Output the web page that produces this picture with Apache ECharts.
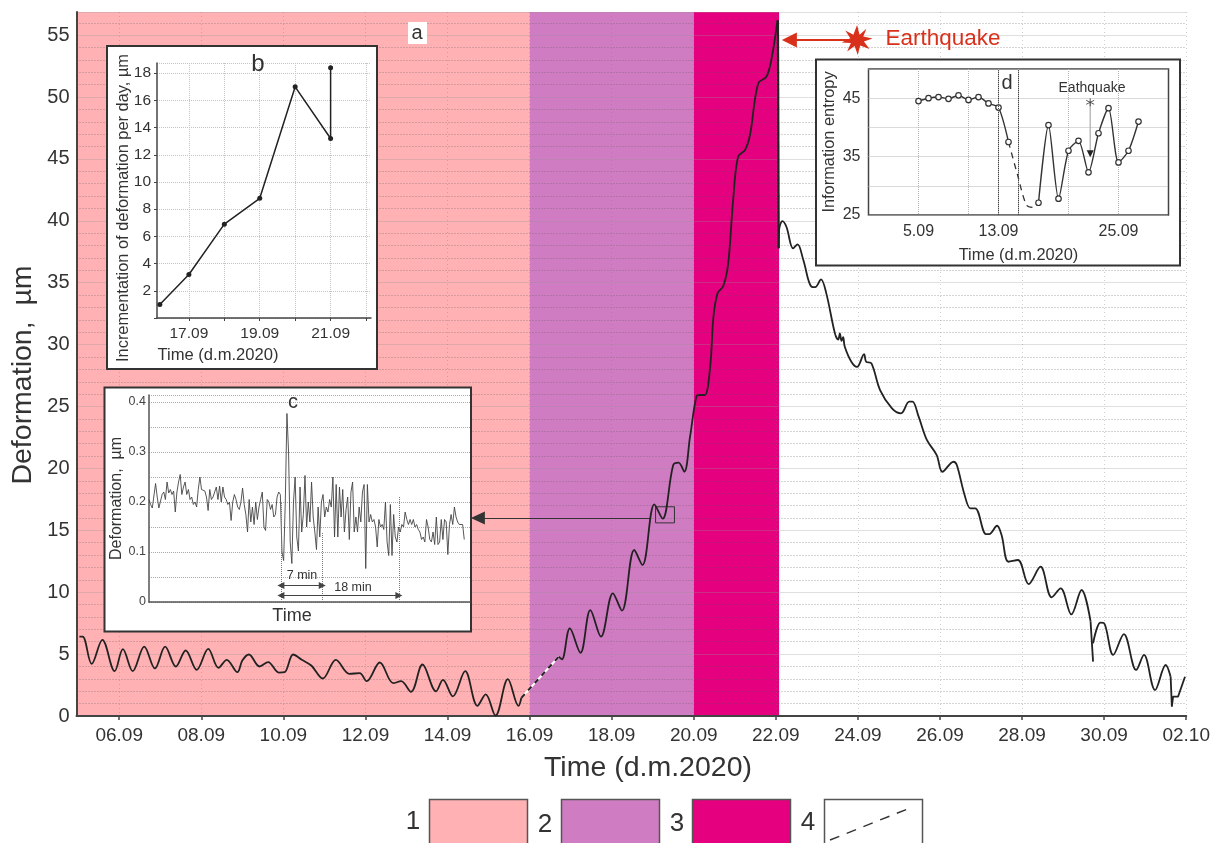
<!DOCTYPE html>
<html>
<head>
<meta charset="utf-8">
<title>Deformation</title>
<style>
  html, body { margin: 0; padding: 0; background: #fff; }
  #c1 { width: 1213px; height: 843px; }
</style>
<script src="https://cdn.jsdelivr.net/npm/echarts@6/dist/echarts.min.js"></script>
</head>
<body>
<div id="c1"></div>
<script>
// main chart, x = day counted from 1 September (02.10 = 32)
const mainTicks = [6, 8, 10, 12, 14, 16, 18, 20, 22, 24, 26, 28, 30, 32]
const mainTickLabels = ['06.09', '08.09', '10.09', '12.09', '14.09', '16.09', '18.09', '20.09', '22.09', '24.09', '26.09', '28.09', '30.09', '02.10']
const stageBands = [[4.96, 16], [16, 20], [20, 22.08]]
const stageColors = ['#ffb1b3', '#d07cc2', '#e4007f']

const driftPts = [[5.03,6.42],[5.11,6.42],[5.33,4.21],[5.59,6.15],[5.89,3.62],[6.09,5.4],[6.33,3.62],[6.61,5.61],[6.87,3.84],[7.12,5.61],[7.38,4.0],[7.62,5.29],[7.89,3.73],[8.17,5.42],[8.42,3.89],[8.62,4.54],[8.88,3.54],[9.0,4.48],[9.16,4.97],[9.42,4.0],[9.63,4.35],[9.89,3.51],[10.03,3.54],[10.24,4.97],[10.45,4.54],[10.68,4.08],[10.96,3.03],[11.28,4.54],[11.61,3.41],[11.86,3.46],[12.03,2.81],[12.35,4.32],[12.68,2.65],[12.87,2.81],[13.11,1.95],[13.39,4.16],[13.72,2.0],[13.89,2.92],[14.13,1.58],[14.43,3.62],[14.73,0.82],[14.93,1.74],[15.17,0.04],[15.47,2.98],[15.73,0.82],[15.8,1.47]]
const gapPts = [[15.8,1.47],[16.71,4.79]]
const risePts = [[16.71,4.79],[16.79,4.58],[16.98,7.08],[17.24,5.11],[17.48,8.56],[17.74,6.41],[18.03,9.91],[18.25,8.51],[18.55,13.41],[18.75,12.2],[19.04,17.1],[19.24,15.94],[19.5,20.27],[19.63,20.46],[19.77,19.73],[19.91,22.56],[20.07,25.85],[20.15,25.93],[20.27,25.93],[20.4,28.2],[20.48,32.25],[20.58,34.14],[20.72,34.73],[20.84,36.57],[20.96,41.68],[21.08,45.18],[21.25,45.72],[21.37,46.93],[21.57,51.1],[21.77,51.64],[21.89,52.99],[22.04,56.2]]
const quakeDropPts = [[22.05,56.2],[22.07,37.78]]
const fallPts = [[22.07,37.78],[22.08,39.26],[22.16,39.98],[22.26,39.5],[22.42,37.78],[22.53,38.1],[22.67,36.83],[22.87,34.68],[22.96,34.65],[23.1,35.27],[23.23,34.14],[23.44,30.91],[23.52,30.4],[23.56,30.9],[23.6,30.3],[23.64,30.6],[23.68,29.83],[23.84,28.62],[23.98,28.2],[24.15,29.24],[24.2,28.62],[24.33,28.49],[24.54,26.33],[24.83,24.85],[25.05,24.45],[25.25,25.39],[25.33,25.39],[25.48,24.18],[25.68,22.3],[25.92,21.08],[26.06,19.73],[26.33,20.54],[26.41,20.27],[26.6,17.85],[26.74,16.78],[26.86,16.78],[27.12,14.7],[27.2,14.7],[27.39,15.37],[27.5,14.62],[27.67,12.46],[27.9,12.6],[28.16,10.66],[28.45,12.06],[28.72,9.59],[28.94,10.31],[29.2,8.21],[29.45,10.18],[29.67,7.62]]
const spikeOnePts = [[29.67,7.62],[29.71,7.5],[29.73,4.39]]
const fallPts2 = [[29.73,5.87],[29.91,7.54],[30,7.49],[30.22,4.93],[30.48,6.62],[30.78,3.72],[30.97,4.93],[31.24,2.1],[31.5,4.12],[31.62,3.17]]
const spikeTwoPts = [[31.62,3.17],[31.65,0.75],[31.68,1.56],[31.8,1.56],[31.97,3.17]]

// inset b
const bTicks = [17, 18, 19, 20, 21, 22]
const bLabels = { 17: '17.09', 19: '19.09', 21: '21.09' }
const bPts = [[16.18,1],[17,3.2],[18,6.9],[19,8.8],[20,17],[21,13.2],[21,18.4]]

// inset c, one reading every ~1.6 px of its time axis
const cValues = [.205,.195,.188,.19,.237,.21,.188,.19,.215,.22,.205,.24,.218,.225,.215,.222,.18,.22,.24,.255,.215,.23,.24,.215,.225,.205,.21,.195,.2,.19,.225,.25,.225,.225,.222,.21,.183,.225,.205,.21,.208,.23,.205,.232,.2,.23,.21,.205,.195,.2,.163,.2,.215,.205,.19,.185,.2,.228,.195,.175,.14,.205,.16,.19,.155,.2,.165,.19,.205,.22,.15,.143,.205,.2,.185,.195,.17,.175,.21,.22,.215,.1,.083,.2,.377,.3,.12,.077,.2,.25,.13,.102,.23,.14,.175,.253,.15,.2,.16,.24,.17,.14,.105,.19,.13,.2,.215,.17,.19,.18,.205,.19,.25,.13,.235,.13,.23,.17,.225,.14,.185,.21,.125,.22,.24,.14,.17,.14,.19,.16,.22,.235,.067,.235,.16,.175,.16,.165,.15,.11,.165,.15,.155,.145,.2,.12,.093,.195,.093,.175,.13,.12,.15,.14,.155,.15,.18,.165,.155,.165,.155,.165,.15,.155,.145,.14,.125,.13,.12,.165,.15,.125,.12,.14,.115,.17,.115,.12,.165,.125,.165,.16,.095,.155,.175,.155,.19,.17,.16,.155,.158,.155,.125]
const cEvents = [80.3, 105.5, 152.2]
const cEventTops = [.2, .14, .21]
const cSpanLevels = [.033, .013]

// inset d
const dTicks = [5, 10, 13, 15, 20, 25]
const dLabels = { 5: '5.09', 13: '13.09', 25: '25.09' }
const dBefore = [[5,44.5],[6,45],[7,45.2],[8,44.9],[9,45.5],[10,44.7],[11,45.2],[12,44.1],[13,43.4],[14,37.5]]
const dGap = [[14,37.5],[14.9,31.9],[15.8,26.7],[16.5,26.3],[17,27.1]]
const dAfter = [[17,27.1],[18,40.4],[19,27.8],[20,36],[21,37.7],[22,32.3],[23,39],[24,43.3],[25,34],[26,36],[27,41]]
const dQuakeLine = [[22.17,44.3],[22.17,35.5]]

// annotations on the main chart
const cBoxX = [19.07, 19.53]
const cBoxY = [15.6, 16.9]
const cArrow = [[18.95, 16], [14.74, 16]]
const quakeArrow = [[23.9, 54.6], [22.33, 54.6]]
const quakeStar = [[23.98, 54.6]]

const FONT = '"Liberation Sans", Arial, sans-serif'
const INK = '#333'
const QUAKE_RED = '#d9301c'
const STAR_PATH = 'path://M50 0 L58 32 L80 12 L70 38 L100 45 L72 55 L90 80 L60 68 L52 100 L42 70 L18 88 L30 60 L0 58 L28 44 L12 18 L38 32 Z'

const myChart = echarts.init(document.getElementById('c1'))

const txt = (x, y, text, size, extra) => ({
  type: 'text', x, y, z: 8,
  rotation: (extra && extra.rotation) || 0,
  style: { text, fontSize: size, fontFamily: FONT, fill: (extra && extra.fill) || INK, align: 'center', verticalAlign: 'middle' }
})
const box = (x, y, w, h, fill, stroke, lw, z) => ({
  type: 'rect', z: z === undefined ? 3 : z,
  shape: { x, y, width: w, height: h },
  style: { fill, stroke, lineWidth: lw }
})

// plain helper for the line series of the insets and the main curve
const lineSeries = (data, extra) => Object.assign({
  type: 'line', data, showSymbol: false, smooth: false, animation: false, silent: true,
  lineStyle: { color: '#222', width: 1.8 }
}, extra)

const mainCurve = (data) => lineSeries(data, { smooth: 0.35, clip: false })

var option = {
  animation: false,
  textStyle: { fontFamily: FONT },
  grid: [
    { left: 76.5, top: 12, width: 1112.5, height: 704 },
    { left: 157, top: 63, width: 214, height: 255 },
    { left: 149, top: 395, width: 321, height: 207 },
    { left: 868.5, top: 69, width: 300, height: 146, show: true, z: 4, borderColor: '#444', borderWidth: 1.5, backgroundColor: 'transparent' }
  ],
  xAxis: [
    {
      gridIndex: 0, type: 'value', min: 4.96, max: 32, z: 2,
      axisLine: { lineStyle: { color: '#444', width: 2 } },
      axisTick: { customValues: mainTicks, length: 4, lineStyle: { color: '#444', width: 1.5 } },
      axisLabel: {
        customValues: mainTicks, fontSize: 19, color: INK, margin: 10,
        formatter: v => mainTickLabels[mainTicks.indexOf(v)]
      },
      splitLine: { show: true, lineStyle: { color: 'rgba(120,120,120,0.35)', type: [1, 3], width: 1 } }
    },
    {
      gridIndex: 1, type: 'value', min: 16.1, max: 22.14, z: 4,
      axisLine: { lineStyle: { color: '#444', width: 1.5 } },
      axisTick: { customValues: bTicks, length: 3, lineStyle: { color: '#444' } },
      axisLabel: { customValues: [17, 19, 21], fontSize: 15.5, color: INK, margin: 8, formatter: v => bLabels[v] },
      splitLine: { show: true, lineStyle: { color: '#c4c4c4', type: 'dotted' } }
    },
    {
      gridIndex: 2, type: 'value', min: 0, max: 195.5, z: 4,
      axisLine: { lineStyle: { color: '#555', width: 1.5 } },
      axisTick: { show: false }, axisLabel: { show: false }, splitLine: { show: false }
    },
    {
      gridIndex: 3, type: 'value', min: 0, max: 30, z: 4,
      axisLine: { show: false },
      axisTick: { customValues: dTicks, show: false },
      axisLabel: { customValues: [5, 13, 25], fontSize: 16, color: INK, margin: 9, formatter: v => dLabels[v] },
      splitLine: { show: true, lineStyle: { color: '#b5b5b5', type: 'dotted' } },
      name: 'Time (d.m.2020)', nameLocation: 'middle', nameGap: 32,
      nameTextStyle: { fontSize: 16.4, color: INK, fontFamily: FONT }
    }
  ],
  yAxis: [
    {
      gridIndex: 0, type: 'value', min: 0, max: 56.87, interval: 5, z: 2,
      axisLine: { show: true, lineStyle: { color: '#444', width: 2 } },
      axisTick: { show: false },
      axisLabel: { fontSize: 20, color: INK, margin: 7, showMaxLabel: false },
      splitLine: { show: true, lineStyle: { color: 'rgba(150,150,150,0.3)', width: 1 } },
      minorTick: { show: false, splitNumber: 5 },
      minorSplitLine: { show: true, lineStyle: { color: 'rgba(90,90,90,0.5)', type: [1, 2], width: 1 } }
    },
    {
      gridIndex: 1, type: 'value', min: 0, max: 18.75, interval: 2, z: 4,
      axisLine: { show: true, lineStyle: { color: '#444', width: 1.5 } },
      axisTick: { show: true, length: 3, lineStyle: { color: '#444' } },
      axisLabel: { fontSize: 15.5, color: INK, margin: 6, showMaxLabel: false, formatter: v => (v === 0 ? '' : v) },
      splitLine: { show: true, lineStyle: { color: '#c4c4c4', type: 'dotted' } }
    },
    {
      gridIndex: 2, type: 'value', min: 0, max: 0.414, interval: 0.05, z: 4,
      axisLine: { show: true, lineStyle: { color: '#555', width: 1.5 } },
      axisTick: { show: false },
      axisLabel: { customValues: [0, 0.1, 0.2, 0.3, 0.4], fontSize: 12.5, color: '#444', margin: 3 },
      splitLine: { show: true, lineStyle: { color: '#aaa', type: 'dotted' } },
      name: 'Deformation,  µm', nameLocation: 'middle', nameGap: 21,
      nameTextStyle: { fontSize: 16, color: INK, fontFamily: FONT }
    },
    {
      gridIndex: 3, type: 'value', min: 25, max: 50, interval: 5, z: 4,
      axisLine: { show: false },
      axisTick: { show: false },
      axisLabel: { customValues: [25, 35, 45], fontSize: 16, color: INK, margin: 8 },
      splitLine: { show: true, lineStyle: { color: '#b5b5b5', type: 'dotted' } },
      name: 'Information entropy', nameLocation: 'middle', nameGap: 31,
      nameTextStyle: { fontSize: 16.4, color: INK, fontFamily: FONT }
    }
  ],
  series: [
    // stage colours
    lineSeries([], {
      markArea: {
        silent: true, z: 1,
        data: stageBands.map((b, i) => [
          { xAxis: b[0], itemStyle: { color: stageColors[i], opacity: 1 } },
          { xAxis: b[1] }
        ])
      }
    }),
    mainCurve(driftPts),
    lineSeries(gapPts, { lineStyle: { color: '#fff', width: 2 } }),
    lineSeries(gapPts, { lineStyle: { color: '#222', width: 2, type: [5, 5] } }),
    mainCurve(risePts),
    lineSeries(quakeDropPts, { lineStyle: { color: '#222', width: 2.2 } }),
    mainCurve(fallPts),
    lineSeries(spikeOnePts),
    mainCurve(fallPts2),
    lineSeries(spikeTwoPts, { lineStyle: { color: '#222', width: 1.8 } }),
    // box and arrow to inset c, arrow from the star
    lineSeries([], {
      markArea: {
        silent: true, z: 3,
        itemStyle: { color: 'transparent', borderColor: '#333', borderWidth: 1 },
        data: [[{ coord: [cBoxX[0], cBoxY[0]] }, { coord: [cBoxX[1], cBoxY[1]] }]]
      },
      markLine: {
        silent: true, z: 3, precision: 4,
        data: [
          [
            { coord: cArrow[0], symbol: 'none', lineStyle: { color: '#333', width: 1.2, type: 'solid' } },
            { coord: cArrow[1], symbol: 'triangle', symbolSize: [13, 14], lineStyle: { color: '#333', width: 1.2, type: 'solid' } }
          ],
          [
            { coord: quakeArrow[0], symbol: 'none', lineStyle: { color: QUAKE_RED, width: 2.2, type: 'solid' } },
            { coord: quakeArrow[1], symbol: 'triangle', symbolSize: [15, 15], lineStyle: { color: QUAKE_RED, width: 2.2, type: 'solid' } }
          ]
        ],
        label: { show: false }
      }
    }),
    {
      type: 'scatter', data: quakeStar, symbol: STAR_PATH, symbolSize: [31, 30],
      itemStyle: { color: QUAKE_RED, opacity: 1 }, silent: true, z: 3, animation: false
    },
    // inset b
    lineSeries(bPts, {
      xAxisIndex: 1, yAxisIndex: 1, z: 5, showSymbol: true, symbol: 'circle', symbolSize: 5,
      itemStyle: { color: '#222' }, lineStyle: { color: '#222', width: 1.5 }
    }),
    // inset c
    lineSeries(cValues.map((v, i) => [i, v]), {
      xAxisIndex: 2, yAxisIndex: 2, z: 5,
      lineStyle: { color: '#444', width: 0.9 },
      markLine: {
        silent: true, z: 6, precision: 4, label: { show: false },
        data: cEvents.map((x, i) => [
          { coord: [x, 0], symbol: 'none', lineStyle: { color: '#777', width: 1, type: 'dotted' } },
          { coord: [x, cEventTops[i]], symbol: 'none', lineStyle: { color: '#777', width: 1, type: 'dotted' } }
        ]).concat(cSpanLevels.map((lv, i) => [
          { coord: [cEvents[0], lv], symbol: 'triangle', symbolSize: 7, lineStyle: { color: '#444', width: 1, type: 'solid' } },
          { coord: [cEvents[i + 1], lv], symbol: 'triangle', symbolSize: 7, lineStyle: { color: '#444', width: 1, type: 'solid' } }
        ]))
      }
    }),
    // inset d
    lineSeries(dBefore, {
      xAxisIndex: 3, yAxisIndex: 3, z: 5, showSymbol: true, smooth: 0.25, symbol: 'circle', symbolSize: 5.5,
      itemStyle: { color: '#fff', borderColor: '#333', borderWidth: 1.2 }, lineStyle: { color: '#333', width: 1.4 },
      markLine: {
        silent: true, z: 6, symbol: 'none', label: { show: false },
        lineStyle: { color: '#444', type: 'dotted', width: 1 },
        data: [{ xAxis: 13 }, { xAxis: 15 }]
      }
    }),
    lineSeries(dGap, {
      xAxisIndex: 3, yAxisIndex: 3, z: 5, smooth: 0.3,
      lineStyle: { color: '#333', width: 1.3, type: [6, 5] }
    }),
    lineSeries(dAfter, {
      xAxisIndex: 3, yAxisIndex: 3, z: 5, showSymbol: true, smooth: 0.25, symbol: 'circle', symbolSize: 5.5,
      itemStyle: { color: '#fff', borderColor: '#333', borderWidth: 1.2 }, lineStyle: { color: '#333', width: 1.4 }
    }),
    lineSeries(dQuakeLine, { xAxisIndex: 3, yAxisIndex: 3, z: 5, lineStyle: { color: '#aaa', width: 1.2 } }),
    {
      type: 'scatter', xAxisIndex: 3, yAxisIndex: 3, z: 6, silent: true, animation: false,
      data: [dQuakeLine[0]], symbol: 'path://M50 0V100M7 25L93 75M7 75L93 25', symbolSize: 8,
      itemStyle: { color: 'none', borderColor: '#333', borderWidth: 1 }
    },
    {
      type: 'scatter', xAxisIndex: 3, yAxisIndex: 3, z: 6, silent: true, animation: false,
      data: [dQuakeLine[1]], symbol: 'triangle', symbolRotate: 180, symbolSize: 7,
      itemStyle: { color: '#222', opacity: 1 }
    }
  ],
  graphic: [
    // inset panels
    box(107, 46, 270, 323, '#fff', '#333', 2),
    box(104.5, 387.5, 366.5, 244, '#fff', '#333', 2),
    box(816, 59.5, 364, 206, '#fff', '#333', 2),
    box(408, 22, 19, 22, '#fff', 'transparent', 0, 7),
    // titles
    txt(648, 768, 'Time (d.m.2020)', 28.5),
    txt(23, 375, 'Deformation,  µm', 28.5, { rotation: Math.PI / 2 }),
    txt(417, 33, 'a', 20),
    txt(258, 64, 'b', 24),
    txt(293, 402, 'c', 20),
    txt(1007, 83, 'd', 20),
    txt(943, 39, 'Earthquake', 22.5, { fill: QUAKE_RED }),
    txt(1092, 88, 'Eathquake', 14),
    // inset b and c axis titles
    txt(218, 355, 'Time (d.m.2020)', 16.6),
    txt(123, 208, 'Incrementation of deformation per day, µm', 16.4, { rotation: Math.PI / 2 }),
    txt(292, 616, 'Time', 18),
    txt(302, 576, '7 min', 12.5),
    txt(353, 588, '18 min', 12.5),
    // legend
    box(429.5, 799.5, 98, 60, stageColors[0], '#555', 1.5),
    box(561.5, 799.5, 98, 60, stageColors[1], '#555', 1.5),
    box(692.5, 799.5, 98, 60, stageColors[2], '#555', 1.5),
    box(824.5, 799.5, 98, 60, '#fff', '#555', 1.5),
    txt(413, 822, '1', 26),
    txt(545, 825, '2', 26),
    txt(677, 824, '3', 26),
    txt(808, 823, '4', 26),
    {
      type: 'line', z: 8,
      shape: { x1: 830, y1: 840, x2: 910, y2: 808 },
      style: { stroke: '#333', lineWidth: 1.4, lineDash: [10, 8] }
    }
  ]
}
myChart.setOption(option)
</script>
</body>
</html>
